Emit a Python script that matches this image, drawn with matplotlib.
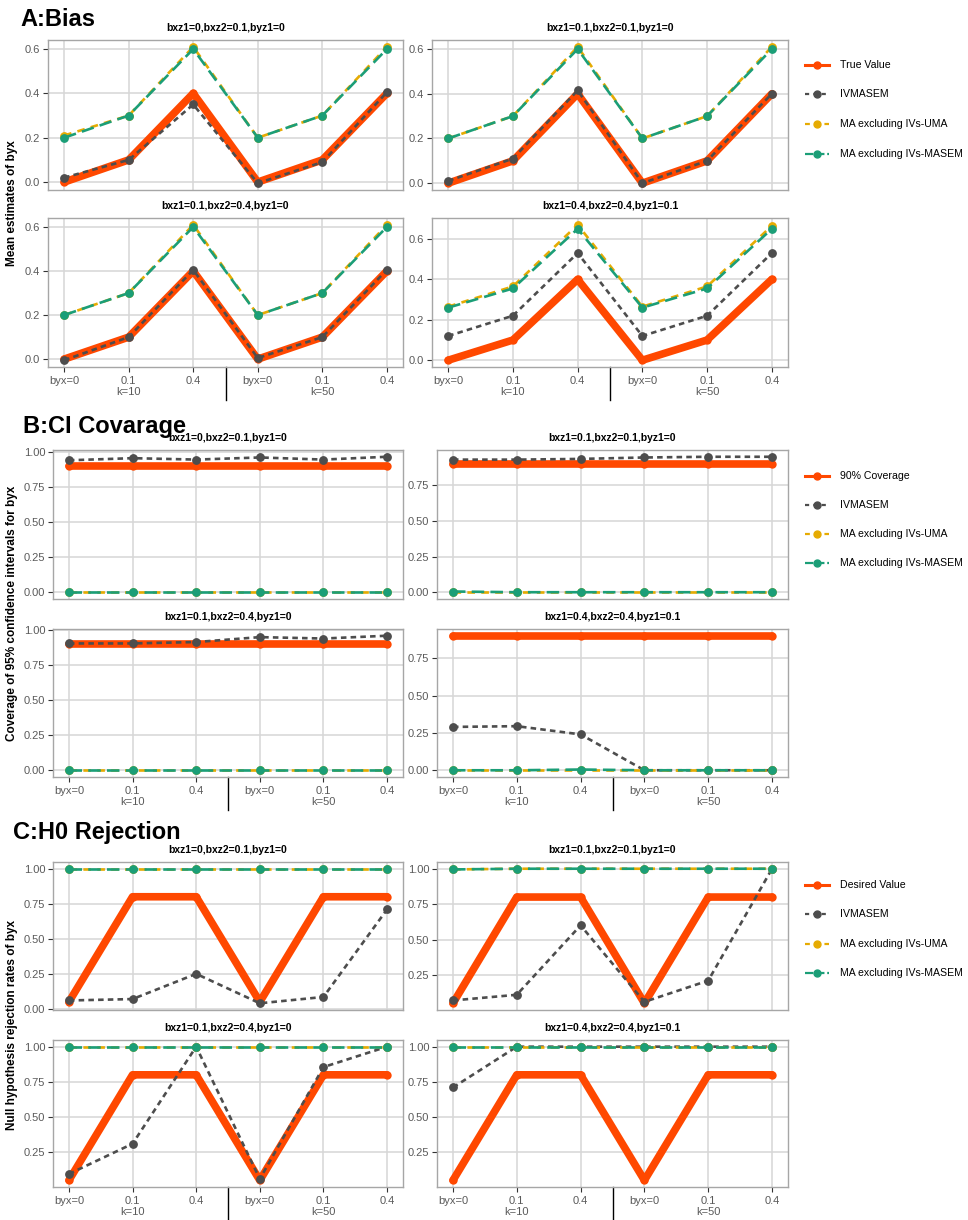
import matplotlib
matplotlib.use("Agg")
import matplotlib.pyplot as plt
from matplotlib.lines import Line2D
from matplotlib.transforms import blended_transform_factory
import numpy as np

plt.rcParams['font.family'] = ['Liberation Sans', 'DejaVu Sans']
plt.rcParams['lines.scale_dashes'] = False

# ---------------- data ----------------
x_labels = ["byx=0", "0.1\nk=10", "0.4", "byx=0", "0.1\nk=50", "0.4"]
panel_titles = ["bxz1=0,bxz2=0.1,byz1=0", "bxz1=0.1,bxz2=0.1,byz1=0",
                "bxz1=0.1,bxz2=0.4,byz1=0", "bxz1=0.4,bxz2=0.4,byz1=0.1"]
series_names = ["IVMASEM", "MA excluding IVs-UMA", "MA excluding IVs-MASEM"]

# A: Bias (mean estimates of byx)
a_true = [0.0, 0.1, 0.4, 0.0, 0.1, 0.4]
a_ivmasem = [[0.02, 0.10, 0.35, -0.005, 0.09, 0.405],
             [0.01, 0.11, 0.415, 0.0, 0.10, 0.40],
             [-0.005, 0.10, 0.405, 0.005, 0.10, 0.405],
             [0.12, 0.22, 0.53, 0.12, 0.22, 0.53]]
a_uma = [[0.21, 0.30, 0.61, 0.20, 0.30, 0.61],
         [0.20, 0.30, 0.61, 0.20, 0.30, 0.61],
         [0.20, 0.30, 0.61, 0.20, 0.30, 0.61],
         [0.265, 0.365, 0.67, 0.265, 0.365, 0.665]]
a_masem = [[0.20, 0.30, 0.60, 0.20, 0.30, 0.60],
           [0.20, 0.30, 0.60, 0.20, 0.30, 0.60],
           [0.20, 0.30, 0.60, 0.20, 0.30, 0.60],
           [0.26, 0.355, 0.65, 0.26, 0.355, 0.65]]

# B: CI coverage
b_target = [0.9, 0.9, 0.9, 0.9, 0.9, 0.9]
b_ivmasem = [[0.94, 0.955, 0.945, 0.96, 0.945, 0.965],
             [0.93, 0.93, 0.935, 0.945, 0.95, 0.95],
             [0.905, 0.905, 0.915, 0.95, 0.94, 0.96],
             [0.29, 0.295, 0.24, 0.0, 0.0, 0.0]]
b_uma = [[0.0, 0.0, 0.0, 0.0, 0.0, 0.0],
         [0.0, 0.0, 0.0, 0.0, 0.0, 0.0],
         [0.0, 0.0, 0.0, 0.0, 0.0, 0.0],
         [0.0, 0.0, 0.0, 0.0, 0.0, 0.0]]
b_masem = [[0.0, 0.0, 0.0, 0.0, 0.0, 0.0],
           [0.005, 0.0, 0.0, 0.0, 0.0, 0.0],
           [0.0, 0.0, 0.0, 0.0, 0.0, 0.0],
           [0.0, 0.0, 0.005, 0.0, 0.0, 0.0]]

# C: H0 rejection
c_desired = [0.05, 0.8, 0.8, 0.05, 0.8, 0.8]
c_ivmasem = [[0.06, 0.07, 0.25, 0.04, 0.085, 0.71],
             [0.07, 0.11, 0.60, 0.06, 0.21, 1.0],
             [0.095, 0.31, 1.0, 0.06, 0.855, 1.0],
             [0.71, 1.0, 1.0, 1.0, 1.0, 1.0]]
c_uma = [[1.0, 1.0, 1.0, 1.0, 1.0, 1.0],
         [0.995, 1.0, 1.0, 1.0, 1.0, 1.0],
         [1.0, 1.0, 1.0, 1.0, 1.0, 1.0],
         [1.0, 1.0, 1.0, 1.0, 1.0, 1.0]]
c_masem = [[1.0, 1.0, 1.0, 1.0, 1.0, 1.0],
           [0.995, 1.0, 1.0, 1.0, 1.0, 1.0],
           [1.0, 1.0, 1.0, 1.0, 1.0, 1.0],
           [1.0, 1.0, 1.0, 1.0, 1.0, 1.0]]

# ---------------- style ----------------
W, H = 968, 1220
COL_TRUE = '#FF4800'
COL_IV = '#4D4D4D'
COL_UMA = '#E6AB02'
COL_MASEM = '#1B9E77'
GRID = '#D6D6D6'
BORDER = '#A6A6A6'
TICKLAB = '#5A5A5A'

fig = plt.figure(figsize=(W / 100, H / 100), dpi=100)


def add_ax(l, t, r, b):
    return fig.add_axes([l / W, 1 - b / H, (r - l) / W, (b - t) / H])


def fig_text(xp, yp, s, **kw):
    fig.text(xp / W, 1 - yp / H, s, **kw)


ov = fig.add_axes([0, 0, 1, 1], zorder=10)
ov.set_xlim(0, W)
ov.set_ylim(H, 0)
ov.axis('off')
ov.patch.set_visible(False)

sections = [
    dict(title="A:Bias", title_xy=(20, 19), ylabel="Mean estimates of byx",
         rows=[(40, 190), (218, 367)], cols=[(48, 403), (432, 788)],
         target=a_true, iv=a_ivmasem, uma=a_uma, masem=a_masem,
         ticks=[0.0, 0.2, 0.4, 0.6], fmt="{:.1f}", first="True Value",
         leg_y=[65, 94, 124, 154]),
    dict(title="B:CI Covarage", title_xy=(23, 426),
         ylabel="Coverage of 95% confidence intervals for byx",
         rows=[(450, 599), (629, 777)], cols=[(53, 403), (437, 788)],
         target=b_target, iv=b_ivmasem, uma=b_uma, masem=b_masem,
         ticks=[0.0, 0.25, 0.5, 0.75, 1.0], fmt="{:.2f}", first="90% Coverage",
         leg_y=[476, 505, 534, 563]),
    dict(title="C:H0 Rejection", title_xy=(13, 833),
         ylabel="Null hypothesis rejection rates of byx",
         rows=[(862, 1010), (1040, 1187)], cols=[(53, 403), (437, 788)],
         target=c_desired, iv=c_ivmasem, uma=c_uma, masem=c_masem,
         ticks=[0.0, 0.25, 0.5, 0.75, 1.0], fmt="{:.2f}", first="Desired Value",
         leg_y=[885, 914, 944, 973]),
]

xpos = np.arange(1, len(x_labels) + 1)

IV_DASH = (0, (4.0, 3.0))
UMA_DASH = (0, (5.5, 4.5))
MASEM_DASH = (0, (9.0, 4.5))

for sec in sections:
    for i in range(4):
        r, c = divmod(i, 2)
        t, b = sec['rows'][r]
        l, rr = sec['cols'][c]
        ax = add_ax(l, t, rr, b)
        series = [sec['target'], sec['iv'][i], sec['uma'][i], sec['masem'][i]]
        allv = np.concatenate([np.asarray(s, float) for s in series])
        lo, hi = allv.min(), allv.max()
        pad = (hi - lo) * 0.05
        ax.set_ylim(lo - pad, hi + pad)
        ax.set_xlim(0.75, 6.25)

        ax.plot(xpos, sec['target'], color=COL_TRUE, lw=5.5, marker='o', ms=5,
                solid_capstyle='round', solid_joinstyle='round', zorder=3)
        ax.plot(xpos, sec['iv'][i], color=COL_IV, lw=1.9, ls=IV_DASH,
                marker='o', ms=5.3, zorder=4)
        ax.plot(xpos, sec['uma'][i], color=COL_UMA, lw=1.9, ls=UMA_DASH,
                marker='o', ms=5.3, zorder=5)
        ax.plot(xpos, sec['masem'][i], color=COL_MASEM, lw=1.9, ls=MASEM_DASH,
                marker='o', ms=5.3, zorder=6)

        yt = [v for v in sec['ticks'] if lo - pad <= v <= hi + pad]
        ax.set_yticks(yt)
        ax.set_yticklabels([sec['fmt'].format(v) for v in yt])
        ax.set_xticks(xpos)
        ax.grid(True, color=GRID, lw=1.1)
        ax.set_axisbelow(True)
        for sp in ax.spines.values():
            sp.set_color(BORDER)
            sp.set_linewidth(1.0)
        ax.tick_params(axis='y', length=3.5, width=0.8, color='#333333',
                       labelsize=8, labelcolor=TICKLAB, pad=2)
        if r == 0:
            ax.tick_params(axis='x', length=0, labelbottom=False)
        else:
            ax.set_xticklabels(x_labels)
            ax.tick_params(axis='x', length=3.5, width=0.8, color='#333333',
                           labelsize=8, labelcolor=TICKLAB, pad=3)
            for lab in ax.get_xticklabels():
                lab.set_linespacing(1.1)
            hpx = b - t
            trans = blended_transform_factory(ax.transData, ax.transAxes)
            ax.plot([3.5, 3.5], [0, -33 / hpx], transform=trans, color='black',
                    lw=1.0, clip_on=False)
        ax.text(0.5, 1 + 12 / (b - t), panel_titles[i], transform=ax.transAxes,
                ha='center', va='center', fontsize=7.5, fontweight='bold')

    # section title & y label
    fig_text(sec['title_xy'][0], sec['title_xy'][1], sec['title'], fontsize=17,
             fontweight='bold', ha='left', va='center')
    yc = (sec['rows'][0][0] + sec['rows'][1][1]) / 2
    fig_text(12, yc, sec['ylabel'], rotation=90, ha='center', va='center',
             fontsize=8.5, fontweight='bold')

    # legend
    labels = [sec['first']] + series_names
    styles = [(COL_TRUE, '-', 2.2), (COL_IV, (0, (3, 3)), 1.6),
              (COL_UMA, (0, (3.5, 3.5)), 1.6), (COL_MASEM, (0, (6, 2)), 1.6)]
    for lab, (col, ls, lw), yy in zip(labels, styles, sec['leg_y']):
        ov.add_line(Line2D([805, 829], [yy, yy], color=col, ls=ls, lw=lw))
        ov.add_line(Line2D([817], [yy], color=col, marker='o', ms=5, lw=0))
        ov.text(840, yy, lab, fontsize=7.6, ha='left', va='center')

fig.savefig("out.png", dpi=100)
